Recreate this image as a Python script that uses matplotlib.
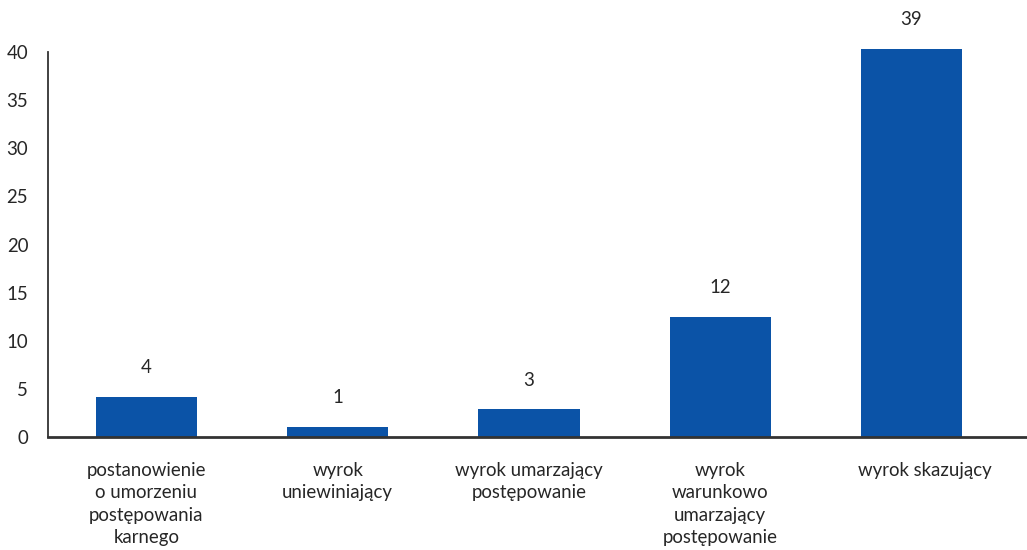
import numpy as np
import matplotlib.pyplot as plt
import matplotlib.transforms as mtransforms

# categories and values
categories = [
    "postanowienie\no umorzeniu\npostępowania\nkarnego",
    "wyrok\nuniewiniający",
    "wyrok umarzający\npostępowanie",
    "wyrok\nwarunkowo\numarzający\npostępowanie",
    "wyrok skazujący",
]
bar_heights = [4.2, 1.1, 2.9, 12.5, 40.3]
bar_labels = ["4", "1", "3", "12", "39"]
y_ticks = [0, 5, 10, 15, 20, 25, 30, 35, 40]

blue = "#0B53A7"
text_col = "#262626"

plt.rcParams['font.family'] = ['Lato', 'DejaVu Sans']
plt.rcParams['font.size'] = 13.4

fig = plt.figure(figsize=(10.27, 5.5), dpi=100)
ax = fig.add_axes([0.0464, 0.2049, 0.9536, 0.906 - 0.2049])

x = np.arange(len(categories))
ax.bar(x, bar_heights, width=0.53, color=blue, clip_on=False, zorder=2)

for xi, h, lab in zip(x, bar_heights, bar_labels):
    ax.annotate(lab, (xi, h), xytext=(0, 21), textcoords="offset points",
                ha="center", va="center", color=text_col,
                annotation_clip=False)

ax.set_xlim(-0.5166, 4.604)
ax.set_ylim(0, 40)
ax.set_yticks(y_ticks)
ax.set_xticks(x)
ax.set_xticklabels(categories, linespacing=1.37, va="top")
ax.tick_params(axis="x", length=0, pad=18, colors=text_col)
ax.tick_params(axis="y", length=0, pad=14, colors=text_col)

# the last category label sits a bit right of its bar in the original
lbl = ax.get_xticklabels()[4]
lbl.set_transform(lbl.get_transform() +
                  mtransforms.ScaledTranslation(13 / 100, 0, fig.dpi_scale_trans))

for s in ["top", "right"]:
    ax.spines[s].set_visible(False)
ax.spines["left"].set_linewidth(1.3)
ax.spines["left"].set_color("#333333")
ax.spines["bottom"].set_linewidth(2)
ax.spines["bottom"].set_color("#333333")
ax.spines["bottom"].set_zorder(3)

fig.savefig("out.png", dpi=100)
